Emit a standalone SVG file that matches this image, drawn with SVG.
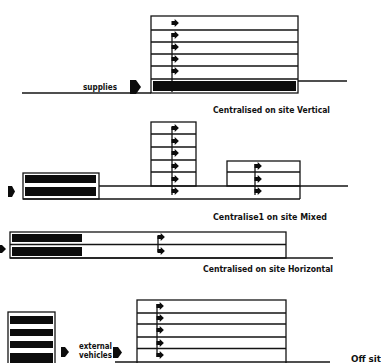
<svg xmlns="http://www.w3.org/2000/svg" width="381" height="363" viewBox="0 0 381 363">
<style>
.o{fill:none;stroke:#141414;stroke-width:1.3}
.g{fill:none;stroke:#141414;stroke-width:1.6}
.b{fill:#0c0c0c;stroke:none}
.t{font-family:"DejaVu Sans Condensed","Liberation Sans Narrow","Liberation Sans",sans-serif;font-weight:bold;font-size:8px;fill:#111}
</style>
<defs>
<path id="a" class="b" d="M-3.5,-2.1 L-0.3,-2.1 L-0.3,-3.9 L3.9,0 L-0.3,3.9 L-0.3,2.1 L-3.5,2.1 Z"/>
</defs>
<rect width="381" height="363" fill="#fff"/>

<g id="connectors">
<line class="g" x1="22" y1="93" x2="151" y2="93"/>
<line class="g" x1="298" y1="81" x2="347" y2="81"/>
<line class="o" x1="172" y1="33" x2="172" y2="92"/>
<line class="g" x1="99" y1="186" x2="348" y2="186"/>
<line class="g" x1="23" y1="199" x2="300" y2="199"/>
<line class="o" x1="300" y1="186" x2="300" y2="199"/>
<line class="o" x1="172" y1="127" x2="172" y2="195"/>
<line class="o" x1="255" y1="164" x2="255" y2="195"/>
<line class="g" x1="10" y1="258" x2="333" y2="258"/>
<line class="o" x1="158" y1="236" x2="158" y2="252"/>
<line class="o" x1="157" y1="304" x2="157" y2="357"/>
<line class="g" x1="115" y1="362" x2="330" y2="362"/>
</g>

<g id="vertical-building">
<rect class="o" x="151" y="16" width="147" height="77"/>
<path class="o" d="M151,30H298M151,42H298M151,54H298M151,66H298M151,79H298"/>
<rect class="b" x="153" y="81" width="143" height="10"/>
<use href="#a" x="175" y="23"/>
<use href="#a" x="175" y="35"/>
<use href="#a" x="175" y="47"/>
<use href="#a" x="175" y="59"/>
<use href="#a" x="175" y="71"/>
</g>
<g id="supplies">
<path class="b" d="M130,80 L136,80 L141,87 L136,94 L130,94 Z"/>
<text class="t" x="83" y="90" textLength="34" lengthAdjust="spacingAndGlyphs">supplies</text>
</g>
<g id="label-vertical"><text class="t" x="213" y="113" textLength="117" lengthAdjust="spacingAndGlyphs">Centralised on site Vertical</text></g>

<g id="mixed-store">
<rect class="o" x="23" y="173" width="76" height="26"/>
<rect class="b" x="25" y="175" width="71" height="8"/>
<rect class="b" x="25" y="187" width="71" height="9"/>
<path class="b" d="M8,186 L12,186 L15,191.5 L12,197 L8,197 Z"/>
</g>
<g id="mixed-tower">
<rect class="o" x="151" y="122" width="45" height="64"/>
<path class="o" d="M151,134H196M151,147H196M151,160H196M151,172H196"/>
<use href="#a" x="175" y="128"/>
<use href="#a" x="175" y="141"/>
<use href="#a" x="175" y="153"/>
<use href="#a" x="175" y="166"/>
<use href="#a" x="175" y="179"/>
<use href="#a" x="175" y="191"/>
</g>
<g id="mixed-low">
<rect class="o" x="227" y="161" width="73" height="25"/>
<line class="o" x1="227" y1="172" x2="300" y2="172"/>
<use href="#a" x="258" y="166"/>
<use href="#a" x="258" y="179"/>
<use href="#a" x="258" y="191"/>
</g>
<g id="label-mixed"><text class="t" x="213" y="220" textLength="114" lengthAdjust="spacingAndGlyphs">Centralise1 on site Mixed</text></g>

<g id="horizontal-building">
<rect class="o" x="10" y="232" width="276" height="26"/>
<line class="o" x1="10" y1="244.5" x2="286" y2="244.5"/>
<rect class="b" x="12" y="234" width="70" height="8"/>
<rect class="b" x="12" y="247" width="70" height="9"/>
<use href="#a" x="161" y="237"/>
<use href="#a" x="161" y="251"/>
<path class="b" d="M-3,245 L2,245 L6,249 L2,253 L-3,253 Z"/>
</g>
<g id="label-horizontal"><text class="t" x="203" y="272" textLength="130" lengthAdjust="spacingAndGlyphs">Centralised on site Horizontal</text></g>

<g id="offsite-store">
<rect class="o" x="8" y="312" width="47" height="55"/>
<rect class="b" x="10" y="316" width="43" height="8"/>
<rect class="b" x="10" y="329" width="43" height="7"/>
<rect class="b" x="10" y="341" width="43" height="7"/>
<rect class="b" x="10" y="353" width="43" height="12"/>
</g>
<g id="external-vehicles">
<path class="b" d="M61,347 L65,347 L69,352 L65,357 L61,357 Z"/>
<text class="t" x="79" y="349" textLength="33" lengthAdjust="spacingAndGlyphs">external</text>
<text class="t" x="79" y="358" textLength="33" lengthAdjust="spacingAndGlyphs">vehicles</text>
<path class="b" d="M113,347 L118,347 L122,352.5 L118,358 L113,358 Z"/>
</g>
<g id="offsite-building">
<rect class="o" x="137" y="300" width="149" height="70"/>
<path class="o" d="M137,313H286M137,324H286M137,337H286M137,348.5H286"/>
<use href="#a" x="160" y="306"/>
<use href="#a" x="160" y="318"/>
<use href="#a" x="160" y="330"/>
<use href="#a" x="160" y="343"/>
<use href="#a" x="160" y="355"/>
</g>
<g id="label-offsite"><text class="t" x="351" y="362" textLength="36" lengthAdjust="spacingAndGlyphs">Off site</text></g>
</svg>
